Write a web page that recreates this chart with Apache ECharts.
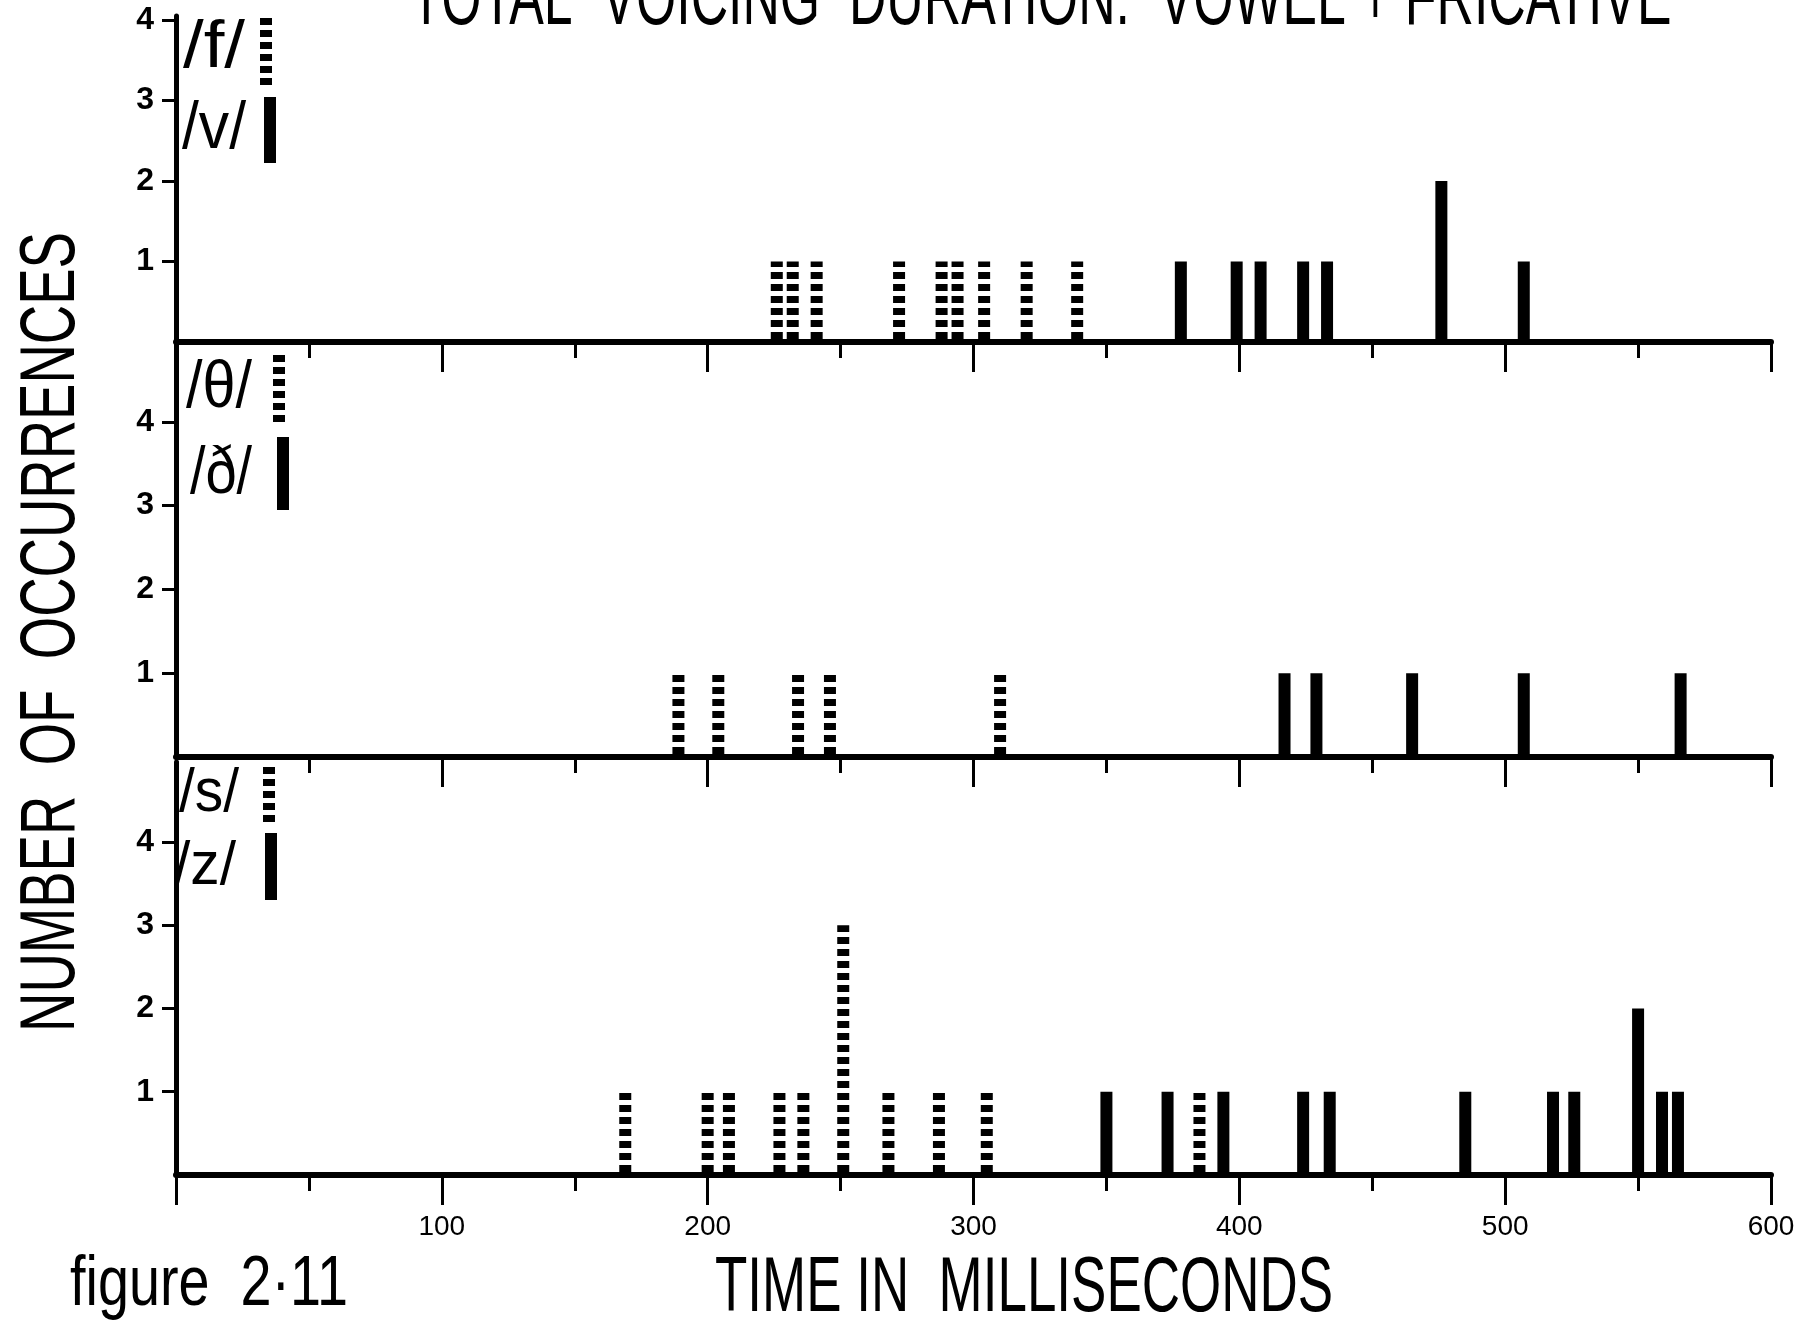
<!DOCTYPE html>
<html>
<head>
<meta charset="utf-8">
<script src="https://cdn.jsdelivr.net/npm/echarts@6/dist/echarts.min.js"></script>
<style>
  html, body { margin: 0; background: #fff; }
  #chart { width: 1817px; height: 1331px; }
</style>
</head>
<body>
<div id="chart"></div>
<script>
'use strict';

// occurrences as [time in ms, count]
var fData  = [[226, 1], [232, 1], [241, 1], [272, 1], [288, 1], [294, 1], [304, 1], [320, 1], [339, 1]];
var vData  = [[378, 1], [399, 1], [408, 1], [424, 1], [433, 1], [476, 2], [507, 1]];
var thData = [[189, 1], [204, 1], [234, 1], [246, 1], [310, 1]];
var dhData = [[417, 1], [429, 1], [465, 1], [507, 1], [566, 1]];
var sData  = [[169, 1], [200, 1], [208, 1], [227, 1], [236, 1], [251, 3], [268, 1], [287, 1], [305, 1], [385, 1]];
var zData  = [[350, 1], [373, 1], [394, 1], [424, 1], [434, 1], [485, 1], [518, 1], [526, 1], [550, 2], [559, 1], [565, 1]];

var yTickValues = [1, 2, 3, 4];
var xLabels = ['', '100', '200', '300', '400', '500', '600'];

var FONT = '"Liberation Sans", Arial, sans-serif';

// grid layout for the three stacked panels
var panels = [
  { top: 16,  height: 326, max: 4.05 },
  { top: 343, height: 414, max: 4.94 },
  { top: 762, height: 413, max: 4.96 }
];

var measure = document.createElement('canvas').getContext('2d');
function fitScale(text, size, width) {
  measure.font = size + 'px ' + FONT;
  return width / measure.measureText(text).width;
}

function barRenderer(dashed) {
  return function (params, api) {
    var p0 = api.coord([api.value(0), 0]);
    var p1 = api.coord([api.value(0), api.value(1)]);
    return {
      type: 'line',
      shape: { x1: p0[0], y1: p0[1], x2: p1[0], y2: p1[1] },
      style: { stroke: '#000', lineWidth: 12, lineDash: dashed ? [7, 5] : null, lineDashOffset: -3 }
    };
  };
}

var grids = [], xAxes = [], yAxes = [];
panels.forEach(function (p, i) {
  var last = i === panels.length - 1;
  grids.push({ left: 176, width: 1595, top: p.top, height: p.height });
  xAxes.push({
    type: 'value', gridIndex: i, min: 0, max: 600, interval: 100,
    axisLine: { lineStyle: { color: '#000', width: 6 } },
    axisTick: { length: 30, lineStyle: { color: '#000', width: 3 } },
    minorTick: { show: true, splitNumber: 2, length: 16, lineStyle: { color: '#000', width: 3 } },
    splitLine: { show: false },
    axisLabel: {
      show: last, margin: 38, color: '#000',
      textStyle: { fontFamily: FONT, fontSize: 28 },
      fontFamily: FONT, fontSize: 28,
      formatter: function (v) { return xLabels[v / 100] || ''; }
    }
  });
  yAxes.push({
    type: 'value', gridIndex: i, min: 0, max: p.max, interval: 1,
    axisLine: { show: true, lineStyle: { color: '#000', width: 5 } },
    axisTick: { show: true, length: 14, customValues: yTickValues, lineStyle: { color: '#000', width: 3 } },
    splitLine: { show: false },
    axisLabel: {
      customValues: yTickValues, margin: 22, color: '#000', fontFamily: FONT,
      fontSize: 32, fontWeight: 'bold',
      formatter: function (v) { return v > 0 && v === Math.round(v) ? String(v) : ''; }
    }
  });
});

var seriesDefs = [
  { name: '/f/', data: fData, dashed: true, grid: 0 },
  { name: '/v/', data: vData, dashed: false, grid: 0 },
  { name: '/θ/', data: thData, dashed: true, grid: 1 },
  { name: '/ð/', data: dhData, dashed: false, grid: 1 },
  { name: '/s/', data: sData, dashed: true, grid: 2 },
  { name: '/z/', data: zData, dashed: false, grid: 2 }
];

var series = seriesDefs.map(function (d) {
  return {
    type: 'custom', name: d.name, xAxisIndex: d.grid, yAxisIndex: d.grid,
    renderItem: barRenderer(d.dashed), data: d.data, silent: true
  };
});

function label(text, cx, cy, size, width, rot) {
  return {
    type: 'text', x: cx, y: cy, scaleX: fitScale(text, size, width), rotation: rot || 0,
    style: { text: text, fill: '#000', fontSize: size, fontFamily: FONT, align: 'center', verticalAlign: 'middle' }
  };
}
function key(x, y1, y2, dashed) {
  return {
    type: 'line', shape: { x1: x, y1: y2, x2: x, y2: y1 },
    style: { stroke: '#000', lineWidth: 12, lineDash: dashed ? [7, 5] : null }
  };
}

var graphics = [
  label('TOTAL  VOICING  DURATION:  VOWEL + FRICATIVE', 1041, 2, 80, 1261),
  label('NUMBER  OF  OCCURRENCES', 52, 632, 78, 800, Math.PI / 2),
  label('TIME IN  MILLISECONDS', 1024, 1289, 78, 618),
  label('figure  2·11', 209, 1286, 70, 278),
  label('/f/', 214, 49, 66, 62),
  label('/v/', 214, 130, 66, 64),
  label('/θ/', 219, 389, 66, 66),
  label('/ð/', 221, 475, 66, 62),
  label('/s/', 209, 794, 62, 60),
  label('/z/', 205, 867, 62, 62),
  key(266, 17, 85, true),
  key(270, 97, 163, false),
  key(279, 355, 422, true),
  key(283, 437, 510, false),
  key(269, 767, 822, true),
  key(271, 833, 900, false)
];

var chart = echarts.init(document.getElementById('chart'));
chart.setOption({
  backgroundColor: '#fff',
  animation: false,
  grid: grids,
  xAxis: xAxes,
  yAxis: yAxes,
  series: series,
  graphic: graphics
});
</script>
</body>
</html>
